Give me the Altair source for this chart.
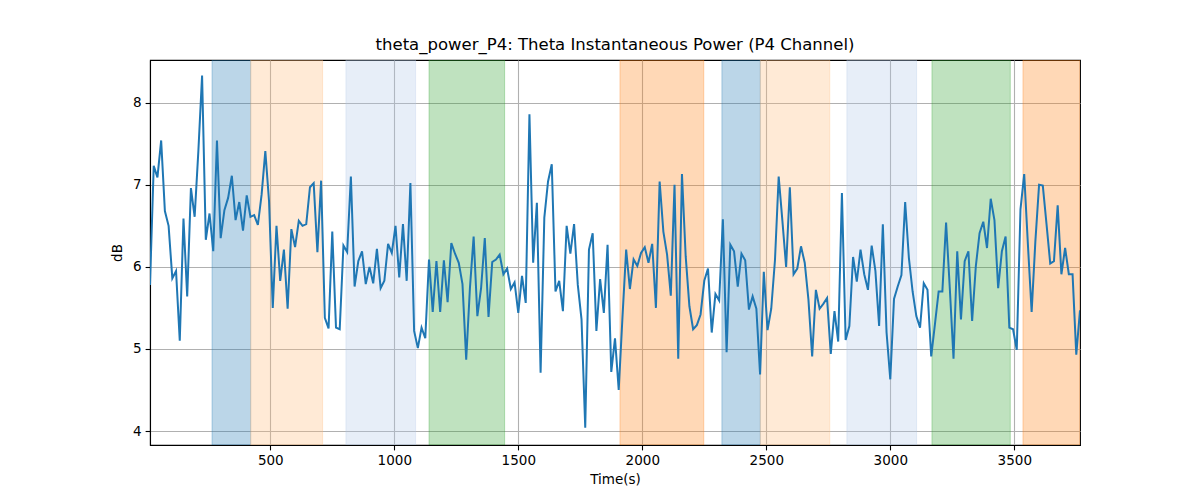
import altair as alt
import pandas as pd

# ---- data ----
values = [
    5.78, 7.23, 7.09, 7.54, 6.68, 6.50, 5.86, 5.95, 5.10, 6.59,
    5.64, 6.96, 6.61, 7.41, 8.33, 6.33, 6.65, 6.19, 7.54, 6.35,
    6.69, 6.84, 7.11, 6.57, 6.79, 6.44, 6.87, 6.61, 6.63, 6.51,
    6.88, 7.41, 6.80, 5.50, 6.50, 5.83, 6.21, 5.49, 6.46, 6.24,
    6.56, 6.50, 6.52, 6.97, 7.02, 6.18, 7.05, 5.38, 5.25, 6.43,
    5.26, 5.24, 6.26, 6.18, 7.10, 5.76, 6.07, 6.19, 5.79, 6.00,
    5.80, 6.22, 5.74, 5.83, 6.28, 6.17, 6.50, 5.87, 6.52, 5.83,
    7.02, 5.22, 5.01, 5.26, 5.13, 6.09, 5.45, 6.07, 5.45, 6.08,
    5.57, 6.29, 6.16, 6.05, 5.79, 4.87, 5.74, 6.37, 5.40, 5.74,
    6.35, 5.39, 6.06, 6.09, 6.15, 5.91, 5.98, 5.73, 5.81, 5.44,
    5.89, 5.56, 7.86, 6.05, 6.78, 4.71, 6.60, 7.04, 7.25, 5.70,
    5.83, 5.46, 6.50, 6.16, 6.52, 5.78, 5.36, 4.04, 6.21, 6.41,
    5.22, 5.85, 5.44, 6.27, 4.72, 5.13, 4.50, 5.38, 6.21, 5.73,
    6.09, 6.01, 6.17, 6.24, 6.05, 6.28, 5.50, 7.04, 6.43, 6.15,
    5.65, 7.00, 4.88, 7.13, 6.13, 5.52, 5.24, 5.29, 5.42, 5.83,
    5.98, 5.20, 5.67, 5.59, 6.58, 4.96, 6.27, 6.19, 5.76, 6.16,
    6.08, 5.48, 5.64, 5.49, 4.69, 5.94, 5.23, 5.49, 6.08, 7.10,
    6.56, 6.00, 6.97, 5.91, 5.98, 6.25, 6.05, 5.60, 4.91, 5.72,
    5.49, 5.55, 5.62, 4.94, 5.46, 5.09, 6.90, 5.11, 5.28, 6.12,
    5.82, 6.21, 5.91, 5.72, 6.26, 5.95, 5.28, 6.52, 5.20, 4.63,
    5.61, 5.76, 5.90, 6.79, 6.11, 5.70, 5.40, 5.26, 5.80, 5.72,
    4.91, 5.30, 5.70, 5.70, 6.54, 5.74, 4.88, 6.19, 5.36, 6.07,
    6.19, 5.34, 6.01, 6.41, 6.55, 6.23, 6.83, 6.57, 5.74, 6.19,
    6.37, 5.26, 5.24, 4.99, 6.70, 7.13, 6.27, 5.45, 6.31, 7.00,
    6.99, 6.52, 6.04, 6.07, 6.75, 5.91, 6.23, 5.91, 5.91, 4.93,
    5.47,
]
time_start = 15
time_step = 15
times = [time_start + time_step * i for i in range(len(values))]

band_start = [265, 421, 805, 1140, 1910, 2321, 2476, 2825, 3168, 3535]
band_end = [421, 711, 1086, 1445, 2248, 2476, 2756, 3106, 3484, 3765]
band_color = ["#1f77b4", "#ffbb78", "#aec7e8", "#2ca02c", "#ff7f0e",
              "#1f77b4", "#ffbb78", "#aec7e8", "#2ca02c", "#ff7f0e"]

x_ticks = [500, 1000, 1500, 2000, 2500, 3000, 3500]
y_ticks = [4, 5, 6, 7, 8]
x_domain = [15, 3765]
y_domain = [3.83, 8.52]

line_df = pd.DataFrame({"t": times, "v": values})
band_df = pd.DataFrame({"s": band_start, "e": band_end, "c": band_color})

FONT = "DejaVu Sans"

xscale = alt.Scale(domain=x_domain, nice=False, zero=False)
yscale = alt.Scale(domain=y_domain, nice=False, zero=False)

xaxis = alt.Axis(values=x_ticks, format="d", title="Time(s)", grid=True)
yaxis = alt.Axis(values=y_ticks, format="d", title="dB", grid=True)

bands = alt.Chart(band_df).mark_rect(
    fillOpacity=0.3, strokeOpacity=0.3, strokeWidth=1, clip=True
).encode(
    x=alt.X("s:Q", scale=xscale, axis=xaxis),
    x2="e:Q",
    color=alt.Color("c:N", scale=None),
    stroke=alt.Stroke("c:N", scale=None),
)

line = alt.Chart(line_df).mark_line(color="#1f77b4", strokeWidth=2.0, clip=True).encode(
    x=alt.X("t:Q", scale=xscale, axis=xaxis),
    y=alt.Y("v:Q", scale=yscale, axis=yaxis),
)

chart = (
    alt.layer(bands, line)
    .properties(
        width=930,
        height=385,
        title=alt.TitleParams(
            "theta_power_P4: Theta Instantaneous Power (P4 Channel)",
            fontSize=16.5, font=FONT, fontWeight="normal", color="black", offset=7,
        ),
        padding={"left": 150, "top": 60, "right": 120, "bottom": 55},
        autosize=alt.AutoSizeParams(type="none"),
        background="white",
    )
    .configure_view(stroke="black", strokeWidth=1.1)
    .configure_axis(
        labelFont=FONT, titleFont=FONT, labelFontSize=13.5, titleFontSize=13.5,
        titleFontWeight="normal", labelColor="black", titleColor="black",
        domainColor="black", domainWidth=1.1, tickColor="black", tickWidth=1.1,
        tickSize=4.9, labelPadding=4, gridColor="#b0b0b0", gridWidth=1.1,
    )
    .configure_axisX(titlePadding=5)
    .configure_axisY(titlePadding=8)
)

chart.save("out.html", embed_options={"renderer": "svg", "actions": False})
